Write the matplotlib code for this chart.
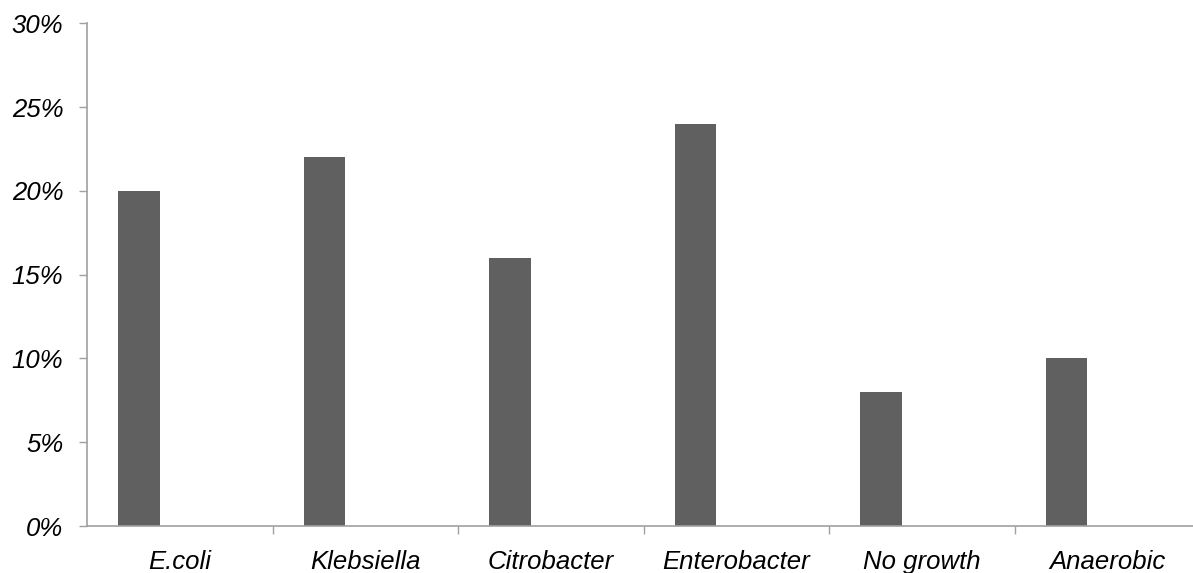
import numpy as np
import matplotlib
matplotlib.use("Agg")
import matplotlib.pyplot as plt
from matplotlib.ticker import FuncFormatter

categories = ["E.coli", "Klebsiella", "Citrobacter", "Enterobacter", "No growth", "Anaerobic"]
percent = [20, 22, 16, 24, 8, 10]
y_ticks = [0, 5, 10, 15, 20, 25, 30]

plt.rcParams["font.family"] = ["Liberation Sans", "DejaVu Sans"]

fig = plt.figure(figsize=(11.93, 5.73), dpi=100)
ax = fig.add_axes([0.0729, 0.0820, 0.9334, 0.8773])

x = np.arange(len(categories))
ax.bar(x + 0.279, percent, width=0.224, color="#606060", zorder=2)

ax.set_xlim(0, len(categories))
ax.set_ylim(0, 30)

# category labels at centres, tick marks at boundaries
ax.set_xticks(x + 0.5)
ax.set_xticklabels(categories, fontsize=18.5, style="italic")
ax.set_xticks(np.arange(1, len(categories) + 1), minor=True)
ax.tick_params(axis="x", which="major", length=0, pad=17.5)
ax.tick_params(axis="x", which="minor", length=6, width=1, color="#a0a0a0", direction="out")

ax.set_yticks(y_ticks)
ax.yaxis.set_major_formatter(FuncFormatter(lambda v, _: f"{v:.0f}%"))
ax.tick_params(axis="y", length=6, width=1, color="#a0a0a0", pad=11, labelsize=18.5)
for lbl in ax.get_yticklabels():
    lbl.set_style("italic")

for side in ["top", "right"]:
    ax.spines[side].set_visible(False)
for side in ["left", "bottom"]:
    ax.spines[side].set_color("#a0a0a0")
    ax.spines[side].set_linewidth(1.2)

fig.savefig("out.png", dpi=100)
